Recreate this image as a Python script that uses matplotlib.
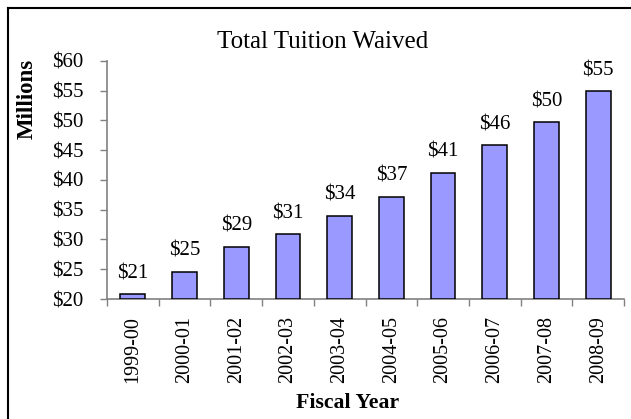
import matplotlib
matplotlib.use("Agg")
import matplotlib.pyplot as plt
from matplotlib.lines import Line2D
import numpy as np

categories = ["1999-00", "2000-01", "2001-02", "2002-03", "2003-04",
              "2004-05", "2005-06", "2006-07", "2007-08", "2008-09"]
values = [20.8, 24.6, 28.8, 30.9, 34.0, 37.2, 41.2, 45.8, 49.7, 54.9]
value_labels = ["$21", "$25", "$29", "$31", "$34", "$37", "$41", "$46", "$50", "$55"]
yticks = [20, 25, 30, 35, 40, 45, 50, 55, 60]
ytick_labels = ["$20", "$25", "$30", "$35", "$40", "$45", "$50", "$55", "$60"]

plt.rcParams['font.family'] = ['Liberation Serif', 'DejaVu Serif']

W, H = 631, 419
fig = plt.figure(figsize=(W / 100, H / 100), dpi=100)
ax = fig.add_axes([107 / W, 1 - 299 / H, (624 - 107) / W, (299 - 61) / H])

x = np.arange(len(categories))
ax.bar(x, [v - 20 for v in values], bottom=20, width=0.48, color='#9999FF',
       edgecolor='black', linewidth=1.1, zorder=3)
for xi, v, lab in zip(x, values, value_labels):
    ax.annotate(lab, (xi, v), xytext=(0, 8), textcoords='offset points',
                ha='center', va='bottom', fontsize=15)

ax.set_xlim(-0.5, len(categories) - 0.5)
ax.set_ylim(20, 60)
ax.set_yticks(yticks)
ax.set_yticklabels(ytick_labels, fontsize=15)
ax.set_xticks(x)
ax.set_xticklabels(categories, rotation=90, fontsize=14.5)
ax.tick_params(axis='x', length=0, pad=12)
ax.set_xticks(np.arange(-0.5, len(categories) + 0.5, 1), minor=True)
ax.tick_params(axis='x', which='minor', length=5, width=1, color='#808080', direction='out')
ax.tick_params(axis='y', length=5, width=1, color='#808080', direction='out', pad=12)

for s in ['top', 'right']:
    ax.spines[s].set_visible(False)
for s in ['left', 'bottom']:
    ax.spines[s].set_color('#808080')
    ax.spines[s].set_linewidth(1.2)

fig.text(323 / W, 1 - 42 / H, "Total Tuition Waived", ha='center', va='center', fontsize=18)
fig.text(27 / W, 1 - 99 / H, "Millions", ha='center', va='center', rotation=90,
         fontsize=16.5, fontweight='bold')
fig.text(348 / W, 1 - 403 / H, "Fiscal Year", ha='center', va='center',
         fontsize=15.7, fontweight='bold')

# figure border (top and left visible)
fig.add_artist(Line2D([8 / W, 8 / W], [0, 1 - 8 / H], color='black', linewidth=1.5,
                      transform=fig.transFigure))
fig.add_artist(Line2D([8 / W, 1], [1 - 8 / H, 1 - 8 / H], color='black', linewidth=1.5,
                      transform=fig.transFigure))

fig.savefig("out.png", dpi=100)
